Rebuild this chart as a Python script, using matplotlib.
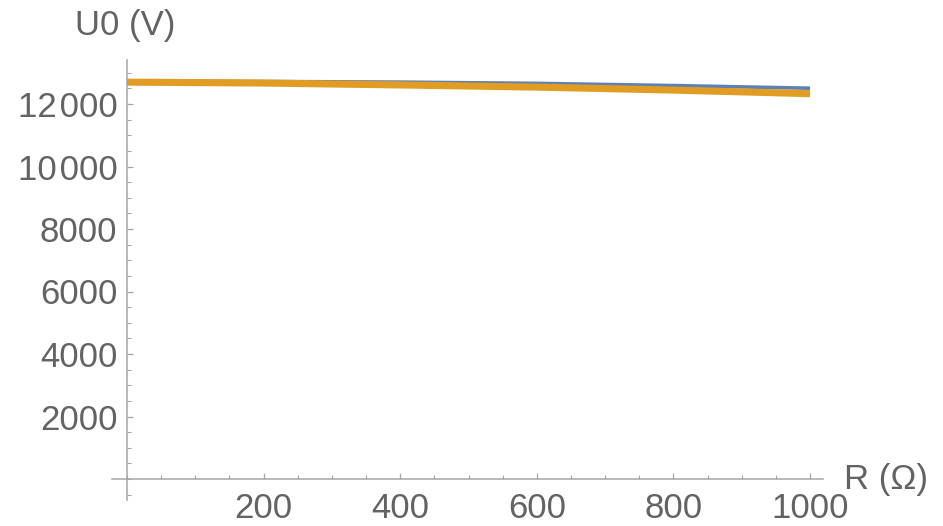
import matplotlib
matplotlib.use("Agg")
import matplotlib.pyplot as plt
from matplotlib.ticker import MultipleLocator, FixedLocator, FuncFormatter

## data
R = [0, 200, 400, 600, 800, 1000]
U0_blue = [12730, 12720, 12700, 12660, 12590, 12505]
U0_orange = [12700, 12670, 12610, 12540, 12445, 12330]

x_ticks = [200, 400, 600, 800, 1000]
y_ticks = [2000, 4000, 6000, 8000, 10000, 12000]

axis_col = '#a6a6a6'
text_col = '#636363'
font = 'Liberation Sans'

plt.rcParams['font.family'] = [font, 'DejaVu Sans']


def fmt(v, pos):
    # mathematica style digit grouping with a small space
    s = '%d' % v
    if v >= 10000:
        s = s[:-3] + '\u200a' + s[-3:]
    return s


fig = plt.figure(figsize=(9.43, 5.26), dpi=100)
ax = fig.add_axes([112/943, 1 - 500/526, 711/943, 440/526])

ax.plot(R, U0_blue, color='#5e81b5', lw=2.6, solid_capstyle='butt', zorder=3)
ax.plot(R, U0_orange, color='#e19c24', lw=5.1, solid_capstyle='butt', zorder=4)

ax.set_xlim(-22, 1019)
ax.set_ylim(-672, 13408)

## axes through the origin
for s in ['top', 'right']:
    ax.spines[s].set_visible(False)
ax.spines['left'].set_position(('data', 0))
ax.spines['bottom'].set_position(('data', 0))
for s in ['left', 'bottom']:
    ax.spines[s].set_color(axis_col)
    ax.spines[s].set_linewidth(1.1)

ax.xaxis.set_major_locator(FixedLocator(x_ticks))
ax.xaxis.set_minor_locator(MultipleLocator(50))
ax.yaxis.set_major_locator(FixedLocator(y_ticks))
ax.yaxis.set_minor_locator(MultipleLocator(500))
ax.xaxis.set_major_formatter(FuncFormatter(fmt))
ax.yaxis.set_major_formatter(FuncFormatter(fmt))

ax.tick_params(axis='both', which='major', direction='in', length=4.5, width=0.9,
               color=axis_col, labelcolor=text_col, labelsize=25)
ax.tick_params(axis='both', which='minor', direction='in', length=2.8, width=0.8,
               color=axis_col)
ax.tick_params(axis='x', which='major', pad=9)
ax.tick_params(axis='y', which='major', pad=7)

## axis labels at the ends of the axes
fig.text(125/943, 1 - 25/526, 'U0 (V)', ha='center', va='center',
         color=text_col, fontsize=25, fontname=font)
fig.text(844/943, 1 - 479/526, 'R (\u03a9)', ha='left', va='center',
         color=text_col, fontsize=25, fontname=font)

fig.savefig('out.png', dpi=100)
